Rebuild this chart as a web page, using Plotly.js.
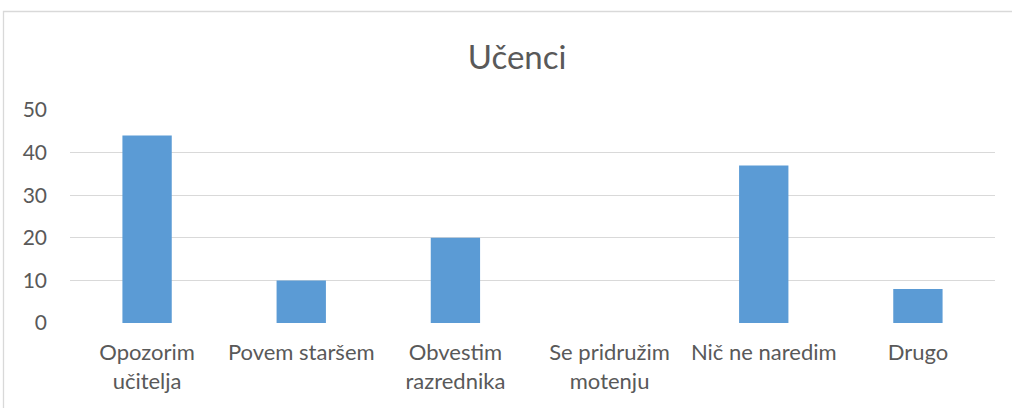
<!DOCTYPE html>
<html>
<head>
<meta charset="utf-8">
<script src="https://cdn.plot.ly/plotly-3.0.1.min.js"></script>
<style>
  body { margin: 0; background: #fff; }
  #grafico { width: 1012px; height: 408px; }
</style>
</head>
<body>
<div id="grafico"></div>
<script>
const kategorije = [
    "Opozorim<br>učitelja",
    "Povem staršem",
    "Obvestim<br>razrednika",
    "Se pridružim<br>motenju",
    "Nič ne naredim",
    "Drugo"
];
const vrednosti = [44, 10, 20, 0, 37, 8];
const yTicki = [0, 10, 20, 30, 40, 50];

const pisava = "Lato, 'Open Sans', sans-serif";
const sivaBesedila = '#595959';

const sledi = [{
    type: 'bar',
    x: kategorije,
    y: vrednosti,
    marker: { color: '#5B9BD5' },
    hoverinfo: 'x+y'
}];

const postavitev = {
    width: 1012,
    height: 408,
    margin: { l: 70, r: 17, t: 110, b: 85 },
    paper_bgcolor: '#ffffff',
    plot_bgcolor: '#ffffff',
    bargap: 0.68,
    showlegend: false,
    title: {
        text: 'Učenci',
        font: { family: pisava, size: 33, color: sivaBesedila },
        xref: 'container', x: 0.511,
        yref: 'container', y: 0.86, yanchor: 'middle'
    },
    xaxis: {
        type: 'category',
        showgrid: false,
        zeroline: false,
        showline: false,
        ticks: '',
        ticklabelstandoff: 14,
        tickfont: { family: pisava, size: 22, color: sivaBesedila }
    },
    yaxis: {
        range: [0, 50],
        tickvals: yTicki,
        showgrid: true,
        gridcolor: '#d9d9d9',
        gridwidth: 1.3,
        zeroline: false,
        showline: false,
        ticks: '',
        ticklabelstandoff: 22,
        tickfont: { family: pisava, size: 21, color: sivaBesedila }
    },
    shapes: [{
        type: 'rect',
        xref: 'paper', yref: 'paper',
        x0: -0.0719, x1: 1.2,
        y0: -0.6, y1: 1.4624,
        line: { color: '#d9d9d9', width: 1.3 },
        fillcolor: 'rgba(0,0,0,0)',
        layer: 'below'
    }]
};

Plotly.newPlot('grafico', sledi, postavitev, { displayModeBar: false, staticPlot: true });
</script>
</body>
</html>
